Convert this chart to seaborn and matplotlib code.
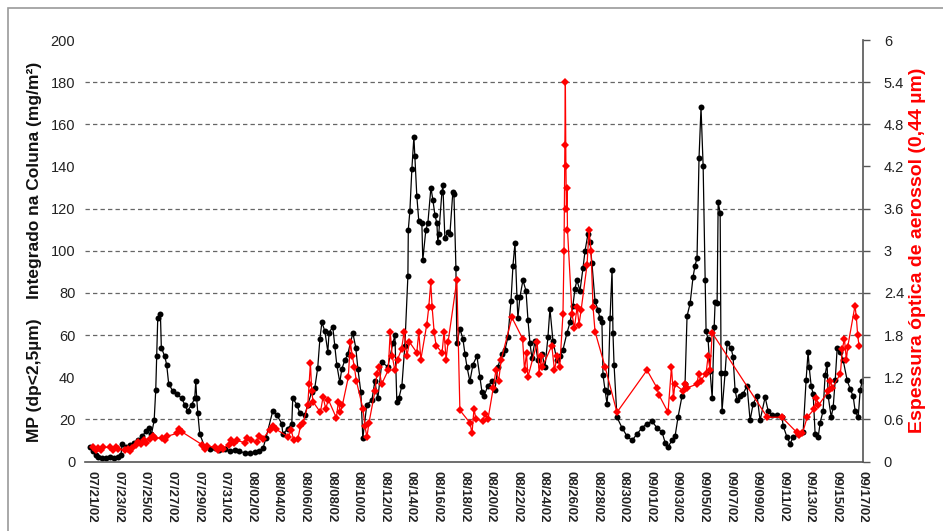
import matplotlib
matplotlib.use("Agg")
import matplotlib.pyplot as plt
import seaborn as sns
import pandas as pd
from matplotlib.patches import Rectangle

# ---------------- data ----------------
tick_days = list(range(0, 59, 2))
tick_labels = ["07/21/02", "07/23/02", "07/25/02", "07/27/02", "07/29/02", "07/31/02",
               "08/02/02", "08/04/02", "08/06/02", "08/08/02", "08/10/02", "08/12/02",
               "08/14/02", "08/16/02", "08/18/02", "08/20/02", "08/22/02", "08/24/02",
               "08/26/02", "08/28/02", "08/30/02", "09/01/02", "09/03/02", "09/05/02",
               "09/07/02", "09/09/02", "09/11/02", "09/13/02", "09/15/02", "09/17/02"]

left_ticks = [0, 20, 40, 60, 80, 100, 120, 140, 160, 180, 200]
right_ticks = [0, 0.6, 1.2, 1.8, 2.4, 3, 3.6, 4.2, 4.8, 5.4, 6]
right_tick_labels = ["0", "0.6", "1.2", "1.8", "2.4", "3", "3.6", "4.2", "4.8", "5.4", "6"]
grid_levels = [20, 60, 80, 100, 120, 160, 180]

# MP (dp<2.5um) column integrated, mg/m2  (day offset since 07/21/02)
mp_day = [-0.1, 0.1, 0.3, 0.5, 0.8, 1.1, 1.4, 1.7, 2.0, 2.2, 2.3, 2.6, 2.9, 3.2, 3.5, 3.8,
          4.1, 4.3, 4.5, 4.7, 4.82, 4.89, 4.97, 5.17, 5.24, 5.49, 5.64, 5.79, 6.09, 6.4,
          6.77, 7.0, 7.22, 7.52, 7.75, 7.83, 7.9, 7.98, 8.13, 8.5, 8.9, 9.3, 9.6, 10.0,
          10.4, 10.8, 11.1, 11.5, 11.9, 12.3, 12.6, 12.9, 13.1, 13.62, 13.92, 14.3, 14.37,
          14.75, 15.05, 15.12, 15.43, 15.65, 16.03, 16.25, 16.55, 16.78, 17.0, 17.16,
          17.31, 17.53, 17.76, 17.85, 18.13, 18.28, 18.43, 18.66, 18.81, 19.04, 19.26,
          19.64, 19.86, 20.02, 20.24, 20.39, 20.69, 21.07, 21.29, 21.52, 21.82, 22.27,
          22.65, 22.8, 22.95, 23.1, 23.33, 23.55, 23.78, 23.81, 23.93, 24.08, 24.23,
          24.3, 24.45, 24.6, 24.83, 24.9, 25.13, 25.28, 25.51, 25.66, 25.81, 25.96,
          26.03, 26.1, 26.34, 26.41, 26.56, 26.79, 26.94, 27.16, 27.24, 27.39, 27.46,
          27.69, 27.92, 28.07, 28.22, 28.44, 28.67, 28.97, 29.19, 29.35, 29.5, 29.8,
          30.1, 30.32, 30.55, 30.85, 31.08, 31.3, 31.53, 31.68, 31.83, 31.98, 32.05,
          32.2, 32.43, 32.66, 32.81, 32.96, 33.11, 33.33, 33.56, 33.86, 34.09, 34.31,
          34.46, 34.69, 34.99, 35.21, 35.44, 35.74, 35.97, 36.19, 36.34, 36.49, 36.72,
          36.95, 37.1, 37.32, 37.47, 37.62, 37.85, 38.07, 38.22, 38.37, 38.45, 38.6,
          38.75, 38.83, 38.98, 39.13, 39.2, 39.28, 39.5, 39.88, 40.26, 40.63, 41.01,
          41.38, 41.76, 42.14, 42.51, 42.89, 43.12, 43.34, 43.64, 43.87, 44.09, 44.39,
          44.62, 44.77, 45.0, 45.22, 45.37, 45.52, 45.67, 45.82, 45.98, 46.13, 46.2,
          46.35, 46.5, 46.66, 46.81, 46.88, 47.03, 47.11, 47.26, 47.33, 47.4, 47.63,
          47.78, 48.08, 48.23, 48.38, 48.53, 48.76, 48.98, 49.28, 49.51, 49.74, 50.04,
          50.26, 50.64, 50.87, 51.17, 51.54, 51.92, 51.99, 52.29, 52.52, 52.75, 53.12,
          53.5, 53.72, 53.87, 53.95, 54.1, 54.25, 54.4, 54.63, 54.78, 55.0, 55.15,
          55.3, 55.38, 55.61, 55.76, 55.91, 56.06, 56.28, 56.51, 56.81, 57.03, 57.26,
          57.41, 57.64, 57.79, 57.94]
mp_val = [7, 5, 3, 2, 1.5, 1.5, 2, 1.5, 2, 3, 8.5, 7, 8, 9, 10, 12,
          14.5, 16, 13, 19.5, 34, 50, 68, 70, 54, 50, 46, 37, 33.5, 32,
          30, 27, 24, 27, 30, 38, 30, 23, 13, 7, 6, 6.5, 5.5, 6,
          5, 5.5, 5, 4, 4, 4.5, 5, 6.5, 11, 24, 22, 18, 13,
          15.5, 18, 30, 27, 23, 22, 27, 33, 35, 44.5, 58,
          66, 62, 52, 61, 64, 55, 46, 37.5, 44, 48, 51,
          61, 54, 44, 33, 11, 27, 29, 38, 30, 47, 45,
          56, 60, 28, 30, 36, 55, 88, 110, 119, 139, 154,
          145, 126, 114, 113, 95.5, 110, 113, 130, 124, 117, 113,
          104, 108, 128, 131, 106, 109, 108, 128, 127, 92, 56,
          63, 58, 51, 45, 38, 46, 50, 40, 33, 31, 36,
          38, 34, 45, 51, 53, 59, 76, 93, 103.5, 78, 68,
          78, 86, 81, 67, 56, 49, 57, 48, 51, 45, 59,
          72.5, 57, 48, 50, 53, 61, 66, 74, 82, 86, 81,
          92, 100, 108, 104, 94, 76, 72, 68, 66, 41, 34,
          27.5, 33, 68, 91, 61, 46, 21, 16, 12, 10, 13,
          16, 18, 19, 16, 14, 9, 7, 10, 12, 21, 31,
          37, 69, 75, 87.5, 93, 96.5, 144, 168, 140, 86, 62,
          58, 43, 30, 64, 75.5, 75, 123, 118, 42, 24, 42,
          56, 54, 49.5, 34, 29, 31, 32, 36, 19.5, 27.5, 31,
          19.5, 30.5, 24, 22, 22, 21, 17, 11.5, 8.5, 11.5, 13,
          14, 38.5, 52, 45, 36, 32, 13, 11.5, 18.5, 24, 41,
          46.5, 31, 21, 26, 38.5, 54, 52, 48, 38.5, 34.5, 31,
          24, 21, 34, 38]

# Aerosol optical depth at 0.44 um (day offset since 07/21/02)
aod_day = [0.1, 0.3, 0.5, 0.7, 0.85, 1.4, 1.6, 1.8, 1.95, 2.5, 2.7, 2.9, 3.0, 3.3, 3.5,
           3.7, 3.9, 4.1, 4.4, 4.6, 4.8, 5.3, 5.5, 5.7, 6.4, 6.6, 6.8, 8.3, 8.5, 8.7,
           9.3, 9.5, 9.7, 9.85, 10.3, 10.5, 10.7, 10.9, 11.5, 11.7, 11.95, 12.4, 12.6,
           12.85, 13.4, 13.6, 13.85, 14.8, 15.0, 15.2, 15.5, 15.7, 15.9, 16.25, 16.35,
           16.45, 16.55, 16.65, 17.2, 17.4, 17.6, 17.8, 18.4, 18.55, 18.7, 18.85, 19.3,
           19.45, 19.6, 19.75, 19.9, 20.4, 20.55, 20.7, 20.85, 21.3, 21.45, 21.6, 21.8,
           22.3, 22.45, 22.6, 22.8, 23.0, 23.3, 23.5, 23.7, 23.9, 24.45, 24.6, 24.75,
           25.2, 25.35, 25.5, 25.6, 25.75, 25.9, 26.35, 26.5, 26.65, 26.8, 27.46, 27.69,
           28.45, 28.6, 28.75, 28.9, 29.4, 29.6, 29.8, 30.2, 30.4, 30.6, 30.8, 31.6,
           32.4, 32.55, 32.7, 32.8, 33.5, 33.65, 33.8, 33.9, 34.6, 34.8, 35.0, 35.2,
           35.44, 35.52, 35.58, 35.62, 35.66, 35.7, 35.74, 35.78, 36.12, 36.3, 36.5,
           36.65, 36.8, 37.25, 37.4, 37.55, 37.7, 37.85, 38.6, 39.5, 41.76, 42.5, 42.65,
           43.34, 43.6, 43.75, 43.85, 44.5, 44.65, 44.8, 45.5, 45.65, 45.8, 46.2, 46.35,
           46.5, 46.66, 50.8, 51.9, 53.0, 53.2, 53.45, 53.8, 54.35, 54.5, 54.65, 55.4,
           55.55, 55.7, 56.3, 56.45, 56.6, 56.75, 56.85, 57.4, 57.5, 57.6, 57.7]
aod_val = [0.2, 0.16, 0.19, 0.17, 0.2, 0.2, 0.17, 0.21, 0.18, 0.16, 0.18, 0.15, 0.19, 0.24, 0.28,
           0.25, 0.3, 0.27, 0.32, 0.36, 0.33, 0.34, 0.31, 0.36, 0.4, 0.46, 0.42, 0.24, 0.18, 0.22,
           0.2, 0.17, 0.21, 0.18, 0.24, 0.3, 0.26, 0.3, 0.27, 0.33, 0.3, 0.28, 0.36,
           0.32, 0.45, 0.5, 0.46, 0.35, 0.45, 0.3, 0.32, 0.5, 0.55, 0.8, 1.1,
           1.4, 1.0, 0.85, 0.7, 0.92, 0.75, 0.88, 0.62, 0.85, 0.7, 0.8, 1.2,
           1.7, 1.5, 1.35, 1.15, 0.75, 0.5, 0.35, 0.55, 1.0, 1.25, 1.35, 1.1,
           1.3, 1.85, 1.5, 1.3, 1.45, 1.6, 1.85, 1.5, 1.7, 1.55, 1.85, 1.45,
           1.95, 2.2, 2.55, 2.2, 1.85, 1.65, 1.55, 1.85, 1.45, 1.7, 2.58, 0.73,
           0.55, 0.4, 0.75, 0.6, 0.58, 0.68, 0.6, 1.05, 1.3, 1.15, 1.45, 2.05,
           1.75, 1.3, 1.55, 1.2, 1.7, 1.25, 1.5, 1.35, 1.65, 1.3, 1.5, 1.35,
           2.1, 3.0, 4.5, 5.4, 4.2, 3.6, 3.9, 3.3, 2.1, 1.9, 2.2,
           1.95, 2.15, 2.8, 3.3, 3.0, 2.2, 1.85, 1.35, 0.7, 1.3, 1.05, 0.95,
           0.7, 1.35, 0.9, 1.1, 1.0, 1.1, 1.05, 1.1, 1.25, 1.15, 1.25, 1.5,
           1.3, 1.83, 0.63, 0.63, 0.42, 0.38, 0.4, 0.63, 0.75, 0.9, 0.8, 1.0,
           1.15, 1.05, 1.25, 1.6, 1.75, 1.45, 1.63, 2.22, 2.05, 1.8, 1.65]

mp_df = pd.DataFrame({"day": mp_day, "mp": mp_val})
aod_df = pd.DataFrame({"day": aod_day, "aod": aod_val})

# ---------------- plot ----------------
sns.set_theme(style="white")
plt.rcParams['font.family'] = ['Liberation Sans', 'DejaVu Sans']

W, H = 943, 531
fig = plt.figure(figsize=(W / 100, H / 100), dpi=100)
fig.patch.set_facecolor("white")
ax = fig.add_axes([85 / W, 1 - 461.5 / H, (863 - 85) / W, (461.5 - 40) / H])
ax.set_facecolor("white")

for g in grid_levels:
    ax.axhline(g, color="#666666", lw=0.9, ls=(0, (3.5, 2.5)), zorder=0)

sns.lineplot(data=mp_df, x="day", y="mp", ax=ax, color="black", linewidth=0.9,
             marker="o", markersize=4.3, markeredgewidth=0, estimator=None, sort=False)

ax2 = ax.twinx()
sns.lineplot(data=aod_df, x="day", y="aod", ax=ax2, color="#ff0000", linewidth=0.9,
             marker="D", markersize=4.3, markeredgewidth=0, estimator=None, sort=False)

ax.set_xlim(-0.5, 58.0)
ax.set_ylim(0, 200)
ax2.set_ylim(0, 6)

ax.set_yticks(left_ticks)
ax.set_yticklabels([str(v) for v in left_ticks], fontsize=10.5, color="#222222")
ax2.set_yticks(right_ticks)
ax2.set_yticklabels(right_tick_labels, fontsize=10.5, color="#222222")
ax.set_xticks(tick_days)
ax.set_xticklabels(tick_labels, rotation=-90, fontsize=9.5, color="#222222",
                   fontweight="bold")

ax.tick_params(axis="y", length=0, pad=7)
ax.tick_params(axis="x", direction="out", length=3, color="#555555", pad=4)
ax2.tick_params(axis="y", direction="out", length=5, color="#555555", width=1, pad=10)

for s in ["left", "top", "right"]:
    ax.spines[s].set_visible(False)
ax.spines["bottom"].set_color("#555555")
ax.spines["bottom"].set_linewidth(1.2)
for s in ["left", "top", "bottom"]:
    ax2.spines[s].set_visible(False)
ax2.spines["right"].set_color("#555555")
ax2.spines["right"].set_linewidth(1.2)

ax.set_xlabel("")
ax.set_ylabel("")
ax2.set_ylabel("")

fig.text(35 / W, 1 - 252 / H, "MP (dp<2,5µm)    Integrado na Coluna (mg/m²)",
         rotation=90, ha="center", va="center", fontsize=12.5, fontweight="bold",
         color="#111111")
fig.text(918 / W, 1 - 250 / H, "Espessura óptica de aerossol (0,44 µm)",
         rotation=90, ha="center", va="center", fontsize=14, fontweight="bold",
         color="#ff0000")

fig.add_artist(Rectangle((8 / W, -0.05), 1.0, 1 - 8 / H + 0.05, transform=fig.transFigure,
                         fill=False, edgecolor="#9a9a9a", lw=1.2))

fig.savefig("out.png", dpi=100)
